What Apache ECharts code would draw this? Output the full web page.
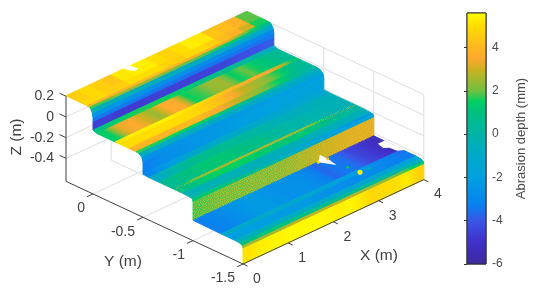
<!DOCTYPE html>
<html><head><meta charset="utf-8">
<style>html,body{margin:0;padding:0;background:#fff}#c{width:550px;height:297px;filter:blur(.6px)}</style>
<script src="https://cdn.jsdelivr.net/npm/echarts@6/dist/echarts.min.js"></script>
</head><body><div id="c"></div>
<script>
// Colour scale
const cmapValues=[-6,-5,-4,-3.3,-2,-1,0,1,1.5,2,3,3.5,4,5,5.6];
const cmapColors=['#3c2a9c','#4030c8','#3a55e8','#0a80f0','#00a0e0','#00a8c8','#00b4a8','#00c080','#00d060','#70c040','#d0b020','#ffa830','#ffb820','#ffdd00','#ffff00'];
// Axis ticks
const xTicks=[0,1,2,3,4];
const yTicks=[0,-0.5,-1,-1.5];
const zTicks=[0.2,0,-0.2,-0.4];
const yTickLabels=['0','-0.5','-1','-1.5'];
const zTickLabels=['0.2','0','-0.2','-0.4'];
const xLimits=[0,4], yLimits=[-1.5,0.27], zLimits=[-0.622,0.2];
// Stair surface: X cell edges, cross-section profile, abrasion per band and cell
const cellX=[0,.25,.5,.75,1,1.25,1.5,1.75,2,2.25,2.5,2.75,3,3.25,3.5,3.75,4];
const profileY=[.27,.13,.06,.035,.02,.005,0,0,0,-.04,-.22,-.26,-.36,-.43,-.46,-.49,-.5,-.5,-.56,-.66,-.8,-.825,-.9,-.97,-.995,-1,-1,-1.28,-1.33,-1.42,-1.47,-1.495,-1.5,-1.5];
const profileZ=[.205,.205,.203,.2,.185,.15,.11,.07,-.005,-.02,-.02,-.02,-.02,-.02,-.025,-.05,-.09,-.205,-.21,-.21,-.21,-.21,-.21,-.215,-.22,-.25,-.425,-.43,-.43,-.43,-.435,-.45,-.475,-.622];
const abrasion=[
[4.6,4.9,4.6,4.4,5.2,5.3,5.3,5,4.7,5,5.3,5.2,4.3,4.1,3.8,1.9],
[4.8,4.9,4.6,4.6,5,5,5,4.7,4.6,4.9,4.9,4.6,4.1,3.8,3,1.6],
[3.9,3.9,3.9,3.9,3.9,4,4,3.9,3.8,3.8,3.8,3.6,3.2,2.4,1.6,1],
[1.8,1.9,2.4,2.4,2.4,2.4,2.3,2.2,2,2,1.8,1.6,1.4,1.1,.8,.4],
[-.3,-.4,-.5,-.5,-.5,-.6,-.6,-.6,-.7,-.7,-.7,-.8,-.8,-1,-1,-1.2],
[-2.4,-2.5,-2.5,-2.6,-2.6,-2.6,-2.7,-2.7,-2.7,-2.8,-2.8,-2.8,-2.9,-2.9,-3,-3],
[-3.4,-3.4,-3.4,-3.4,-3.4,-3.5,-3.5,-3.5,-3.5,-3.5,-3.5,-3.5,-3.5,-3.5,-3.5,-3.4],
[-4.6,-4.6,-4.7,-4.7,-4.7,-4.6,-4.6,-4.6,-4.6,-4.5,-4.5,-4.4,-4.3,-4.2,-4.1,-3.9],
[1,1.2,1.4,1.6,1.6,1.6,1.5,1.4,1.2,1,.9,.7,.5,.2,0,-.8],
[1.4,3.2,3.6,3,2.4,3.6,3.6,1.5,1.8,2.4,2.5,1.4,2,1.3,1,.5],
[5.2,5.3,5.3,5.3,5.3,5.2,5.1,4.8,4.6,4.3,3.9,3.7,3.6,3.4,2.8,1.2],
[5,5,5,5,5,5,4.8,4.5,4.2,3.6,2.9,2.6,2.3,1.7,1,.5],
[3.9,3.9,3.9,3.9,4,4,3.9,3.6,3.2,2.8,2.5,2.2,1.7,1.2,.6,.2],
[1.7,1.6,1.6,1.5,1.5,1.4,1.4,1.2,1,.8,.6,.4,.2,0,-.2,-.3],
[-.6,-.6,-.7,-.7,-.7,-.7,-.8,-.8,-.8,-.8,-.9,-.9,-.9,-1,-1,-1],
[-2.6,-2.6,-2.6,-2.5,-2.5,-2.4,-2.4,-2.3,-2.3,-2.2,-2.2,-2.1,-2.1,-2,-2,-2],
[-3.2,-2.8,-2.7,-2.6,-2.5,-2.4,-2.3,-2.2,-2.1,-2,-2,-1.9,-1.9,-1.8,-1.8,-1.8],
[-3,-2.4,-2,-1.5,-1.2,-1,-1,-1,-1,-1,-1.2,-1.2,-1.2,-1.2,-1.2,-1.2],
[-.8,-.2,.3,.6,.6,.6,.5,.4,.2,0,-.3,-.5,-.6,-.6,-.5,-.5],
[.6,.9,1,1.2,1.2,1.2,1,.9,.8,.4,.2,0,0,-.2,-.3,-.4],
[.8,1.8,2.2,2.4,2.5,2.5,2.5,2.5,2.5,2.4,2.3,2.1,1.8,.8,0,-.2],
[.9,1.1,1.4,1.5,1.5,1.5,1.4,1.3,1.2,1.2,1.2,1.1,.9,.6,.4,.2],
[-.3,-.3,-.3,-.3,-.3,-.3,-.4,-.4,-.4,-.4,-.4,-.5,-.5,-.5,-.5,-.5],
[0,0,-.1,-.2,-.4,-.6,-.8,-1,-1.2,-1.4,-1.6,-1.8,-2,-2.2,-2.4,-2.4],
[1.2,1.2,1.1,1,.8,.6,.3,0,-.3,-.6,-.9,-1.2,-1.5,-1.8,-1.6,-1.2],
[1.8,1.9,2,2,2,2.1,2.1,2.2,2.3,2.5,2.7,2.9,3,3.1,3.2,3.2],
[-3.2,-3,-2.7,-2.4,-2.2,-2.4,-2.6,-2.6,-2.7,-3,-3.7,-3.4,-3.6,-4.4,-4.8,-5.2],
[-1,-1,-1,-1,-1.1,-1.2,-1.2,-1.3,-1.5,-1.6,-2,-2,-2.4,-2.8,-3.2,-3.6],
[-2,-2,-2.1,-2.1,-2.2,-2.2,-2.2,-2.4,-2.6,-2.7,-2.8,-2.8,-2.8,-3,-3.2,-3.4],
[-.5,-.5,-.5,-.5,-.6,-.6,-.8,-.8,-1,-1,-1.2,-1.2,-1.2,-1.4,-1.6,-1.6],
[1,1,1.2,1.2,1,1,.9,.8,.7,.6,.5,.4,.3,.2,0,-.6],
[2.5,2.5,2.5,2.6,2.8,2.8,2.8,2.8,2.8,2.8,2.6,2.4,2.4,2.2,1.8,1.2],
[5.1,5.3,5.4,5.4,5.5,5.5,5.5,5.4,5.3,5.4,5.2,4.8,5,5,5.3,4.7]
];
// Bands with hard block edges, and bands with a grainy scan texture
const blockyBands=[0,1];
const grainyBands=[20,25];
// Gaps in the scan, as [X,Y] outlines at a height Z
const gapOutlines=[
 {z:.205,pts:[[1.28,.28],[1.42,.28],[1.45,.2],[1.35,.19],[1.3,.23]]},
 {z:-.43,pts:[[2.96,-.93],[2.77,-1],[2.91,-1.12],[2.96,-1.01]]},
 {z:-.43,pts:[[3.87,-1.1],[4.02,-1.1],[4.02,-1.3],[3.92,-1.27],[3.9,-1.2],[3.83,-1.17]]}
];
// Isolated scan points: X, Y, Z, abrasion
const spotX=[2.98,3,2.96,2.77,3.2];
const spotY=[-1.2,-1.314,-1.01,-1,-1.32];
const spotZ=[-.43,-.43,-.43,-.43,-.43];
const spotV=[1.2,5.5,4.2,5,-.5];

const lerp=echarts.color.lerp;
function colorOf(v){
  if(v<=cmapValues[0])return cmapColors[0];
  for(let i=1;i<cmapValues.length;i++){
    if(v<=cmapValues[i]){
      return lerp((v-cmapValues[i-1])/(cmapValues[i]-cmapValues[i-1]),[cmapColors[i-1],cmapColors[i]]);
    }
  }
  return cmapColors[cmapColors.length-1];
}
// Oblique view of the 3-D box onto the plane axes
function plane(X,Y,Z){return [.452*X-Y,.211*X+.467*Y+1.035*Z];}

// Fixed grain tile
const grainRows=['#...#..#..#.','..#....#...#','#...#.....#.','..#...#.#...','.#..#.....#.','#....#.#...#','..#.....#...','.#..#.#...#.','...#....#..#','#.....#...#.','..#.#...#...','.#....#..#.#'];
const grainTile=document.createElement('canvas');
grainTile.width=grainTile.height=12;
{const g=grainTile.getContext('2d');g.fillStyle='rgba(235,200,40,.5)';
 grainRows.forEach((r,y)=>[...r].forEach((ch,x)=>{if(ch==='#')g.fillRect(x,y,1,1);}));}

const cells=[];
abrasion.forEach((row,b)=>row.forEach((v,c)=>cells.push([b,c,v])));
const grainCells=[];
grainyBands.forEach(b=>cellX.slice(0,-1).forEach((x,c)=>grainCells.push([b,c])));

// Wall and floor grid
const segs=[];
const [x0,x1]=xLimits,[y0,y1]=yLimits,[z0,z1]=zLimits;
zTicks.forEach(z=>{segs.push([x0,y1,z,x1,y1,z],[x1,y1,z,x1,y0,z]);});
xTicks.slice(1,4).forEach(x=>{segs.push([x,y1,z0,x,y1,z1],[x,y1,z0,x,y0,z0]);});
yTicks.slice(0,3).forEach(y=>{segs.push([x1,y,z0,x1,y,z1],[x0,y,z0,x1,y,z0]);});
segs.push([x1,y0,z0,x1,y0,z1]);
// Box axes and ticks
const axSegs=[[x0,y1,z0,x0,y1,z1],[x0,y1,z0,x0,y0,z0],[x0,y0,z0,x1,y0,z0]];
xTicks.forEach(x=>axSegs.push([x,y0,z0,x,y0-.045,z0]));
yTicks.forEach(y=>axSegs.push([x0,y,z0,x0-.13,y,z0]));
zTicks.forEach(z=>axSegs.push([x0,y1,z,x0,y1+.065,z]));

function lineItem(color){return (p,api)=>{
  const a=api.coord(plane(api.value(0),api.value(1),api.value(2)));
  const b=api.coord(plane(api.value(3),api.value(4),api.value(5)));
  return {type:'line',shape:{x1:a[0],y1:a[1],x2:b[0],y2:b[1]},style:{stroke:color,lineWidth:1},silent:true};
};}
function quad(api,b,c){
  return [[cellX[c],profileY[b],profileZ[b]],[cellX[c+1],profileY[b],profileZ[b]],
          [cellX[c+1],profileY[b+1],profileZ[b+1]],[cellX[c],profileY[b+1],profileZ[b+1]]]
    .map(q=>api.coord(plane(q[0],q[1],q[2])));
}
const txt='#404040';
// Text items placed relative to their tick
const labelItems=[];
xTicks.forEach(x=>labelItems.push({p:[x,y0,z0],t:String(x),dx:14,dy:15,a:'center'}));
yTicks.forEach((y,i)=>labelItems.push({p:[x0,y,z0],t:yTickLabels[i],dx:-8,dy:14.5,a:'right'}));
zTicks.forEach((z,i)=>labelItems.push({p:[x0,y1,z],t:zTickLabels[i],dx:-12,dy:0,a:'right'}));
const axisTitles=['Z (m)','Y (m)','X (m)'];

const option={
 animation:false,
 backgroundColor:'#fff',
 grid:[{left:0,top:0,width:550,height:297,show:false},
       {left:467,top:13,width:19,height:251,show:true,borderColor:'#303030',borderWidth:1,backgroundColor:'transparent'}],
 xAxis:[{type:'value',gridIndex:0,min:-.93,max:4.57,show:false},
        {type:'value',gridIndex:1,min:0,max:1,show:false}],
 yAxis:[{type:'value',gridIndex:0,min:-1.6743,max:1.2957,show:false},
        {type:'value',gridIndex:1,min:-6,max:5.6,interval:2,position:'right',
         axisLine:{show:false},splitLine:{show:false},
         axisTick:{show:true,inside:true,length:3,lineStyle:{color:'#303030'}},
         axisLabel:{color:'#4a4a4a',fontSize:12,margin:6,fontFamily:'Liberation Sans',showMaxLabel:false},
         name:'Abrasion depth (mm)',nameLocation:'middle',nameRotate:90,nameGap:29,
         nameTextStyle:{color:'#4a4a4a',fontSize:13,fontFamily:'Liberation Sans'}}],
 series:[
  {type:'custom',xAxisIndex:0,yAxisIndex:0,clip:false,silent:true,z:1,data:segs,renderItem:lineItem('#dedede')},
  {type:'custom',xAxisIndex:0,yAxisIndex:0,clip:false,silent:true,z:2,data:cells,
   renderItem:(p,api)=>{
     const b=api.value(0),c=api.value(1),v=api.value(2);
     const pts=quad(api,b,c);
     let fill=colorOf(v);
     if(!blockyBands.includes(b)){
       const row=abrasion[b];
       const vL=(v+(c>0?row[c-1]:v))/2, vR=(v+(c<15?row[c+1]:v))/2;
       // gradient runs square to the cell's cross-section edge
       const ex=pts[3][0]-pts[0][0],ey=pts[3][1]-pts[0][1],fx=pts[1][0]-pts[0][0],fy=pts[1][1]-pts[0][1];
       const L=ex*ex+ey*ey||1,k=(fx*ex+fy*ey)/L;
       const gx=fx-k*ex,gy=fy-k*ey;
       fill=new echarts.graphic.LinearGradient(pts[0][0],pts[0][1],pts[0][0]+gx,pts[0][1]+gy,
         [{offset:0,color:colorOf(vL)},{offset:.5,color:colorOf(v)},{offset:1,color:colorOf(vR)}],true);
     }
     return {type:'polygon',shape:{points:pts},style:{fill:fill,stroke:fill,lineWidth:1},silent:true};
   }},
  {type:'custom',xAxisIndex:0,yAxisIndex:0,clip:false,silent:true,z:3,data:grainCells,
   renderItem:(p,api)=>({type:'polygon',shape:{points:quad(api,api.value(0),api.value(1))},
      style:{fill:{image:grainTile,repeat:'repeat'}},silent:true})},
  {type:'custom',xAxisIndex:0,yAxisIndex:0,clip:false,silent:true,z:4,data:gapOutlines.map((g,i)=>[i]),
   renderItem:(p,api)=>{
     const g=gapOutlines[api.value(0)];
     return {type:'polygon',shape:{points:g.pts.map(q=>api.coord(plane(q[0],q[1],g.z)))},style:{fill:'#fff'},silent:true};
   }},
  {type:'custom',xAxisIndex:0,yAxisIndex:0,clip:false,silent:true,z:5,data:spotX.map((x,i)=>[x,spotY[i],spotZ[i],spotV[i]]),
   renderItem:(p,api)=>{
     const a=api.coord(plane(api.value(0),api.value(1),api.value(2))),v=api.value(3);
     return {type:'circle',shape:{cx:a[0],cy:a[1],r:v>5?2.5:1.5},style:{fill:colorOf(v)},silent:true};
   }},
  {type:'custom',xAxisIndex:0,yAxisIndex:0,clip:false,silent:true,z:6,data:axSegs,renderItem:lineItem('#404040')},
  {type:'custom',xAxisIndex:0,yAxisIndex:0,clip:false,silent:true,z:7,data:labelItems.map((l,i)=>[i]),
   renderItem:(p,api)=>{
     const l=labelItems[api.value(0)];
     const a=api.coord(plane(l.p[0],l.p[1],l.p[2]));
     return {type:'text',style:{text:l.t,x:a[0]+l.dx,y:a[1]+l.dy,fill:txt,align:l.a,verticalAlign:'middle',font:'14px "Liberation Sans"'},silent:true};
   }},
  {type:'custom',coordinateSystem:'none',silent:true,z:7,data:[[0],[1],[2]],
   renderItem:(p,api)=>{
     const i=api.value(0);
     const pos=[[17,137],[123,262],[379,256]][i];
     return {type:'text',x:pos[0],y:pos[1],rotation:i===0?Math.PI/2:0,
       style:{text:axisTitles[i],x:0,y:0,fill:txt,align:'center',verticalAlign:'middle',font:'15.5px "Liberation Sans"'},silent:true};
   }},
  {type:'custom',xAxisIndex:1,yAxisIndex:1,clip:false,silent:true,z:3,data:[[0,-6,1,5.6]],
   renderItem:(p,api)=>{
     const a=api.coord([api.value(0),api.value(1)]),b=api.coord([api.value(2),api.value(3)]);
     const stops=cmapValues.map((v,i)=>({offset:(v+6)/11.6,color:cmapColors[i]}));
     return {type:'rect',shape:{x:a[0],y:b[1],width:b[0]-a[0],height:a[1]-b[1]},
       style:{fill:new echarts.graphic.LinearGradient(0,1,0,0,stops),stroke:'#303030',lineWidth:1},silent:true};
   }}
 ]
};
const chart=echarts.init(document.getElementById('c'),null,{renderer:'canvas'});
chart.setOption(option);
</script></body></html>
